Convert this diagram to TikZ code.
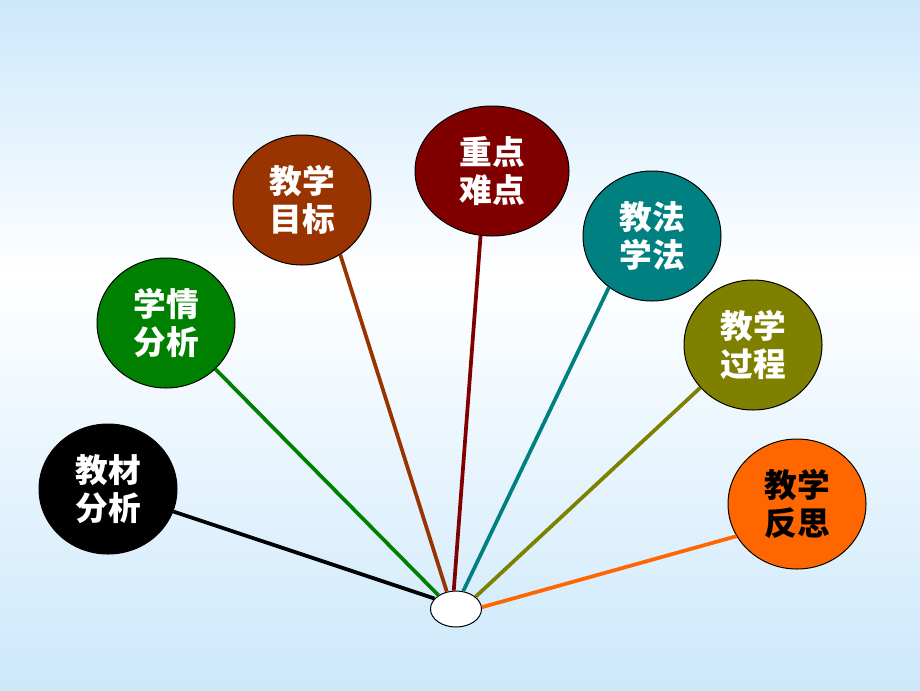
\documentclass[tikz,border=0pt]{standalone}
\usepackage{fontspec}
\newfontfamily\cjk{Noto Sans CJK SC}
\usetikzlibrary{shapes.geometric}
\definecolor{bgblue}{RGB}{204,232,251}
\definecolor{cgreen}{RGB}{0,128,0}
\definecolor{cbrown}{RGB}{153,51,0}
\definecolor{cred}{RGB}{128,0,0}
\definecolor{cteal}{RGB}{0,128,128}
\definecolor{colive}{RGB}{128,128,0}
\definecolor{corange}{RGB}{255,102,0}
\tikzset{
  bubble/.style={ellipse, draw=black, line width=0.75pt, inner sep=0pt,
    minimum width=103.5pt, minimum height=97.5pt, text=white, align=center,
    font=\cjk\bfseries\fontsize{24.5pt}{28.5pt}\selectfont},
  spoke/.style={line width=2.8pt}
}
\begin{document}
\begin{tikzpicture}[x=0.75pt,y=-0.75pt]
\useasboundingbox (0,0) rectangle (920,690);
\shade[top color=bgblue, bottom color=white] (0,0) rectangle (920,276);
\shade[top color=white, bottom color=bgblue] (0,275) rectangle (920,690);
\node[bubble, fill=black] (jcfx) at (108,489) {教材\\分析};
\node[bubble, fill=cgreen] (xqfx) at (166,323) {学情\\分析};
\node[bubble, fill=cbrown] (jxmb) at (302,200) {教学\\目标};
\node[bubble, fill=cred, minimum width=115.5pt] (zdnd) at (492,171) {重点\\难点};
\node[bubble, fill=cteal] (jfxf) at (652,236) {教法\\学法};
\node[bubble, fill=colive] (jxgc) at (753,345) {教学\\过程};
\node[bubble, fill=corange, text=black] (jxfs) at (797,504) {教学\\反思};
\node[ellipse, draw=black, line width=0.75pt, fill=white, inner sep=0pt,
  minimum width=38.25pt, minimum height=27pt] (hub) at (456,609) {};
\draw[spoke, black] (jcfx.-19) -- (hub.154);
\draw[spoke, cgreen] (xqfx.-43) -- (hub.142);
\draw[spoke, cbrown] (jxmb.-55) -- (hub.118);
\draw[spoke, cred] (zdnd.-100) -- (hub.97);
\draw[spoke, cteal] (jfxf.-130) -- (hub.68);
\draw[spoke, colive] (jxgc.-141) -- (hub.32);
\draw[spoke, corange] (jxfs.-152) -- (hub.4);
\end{tikzpicture}
\end{document}
